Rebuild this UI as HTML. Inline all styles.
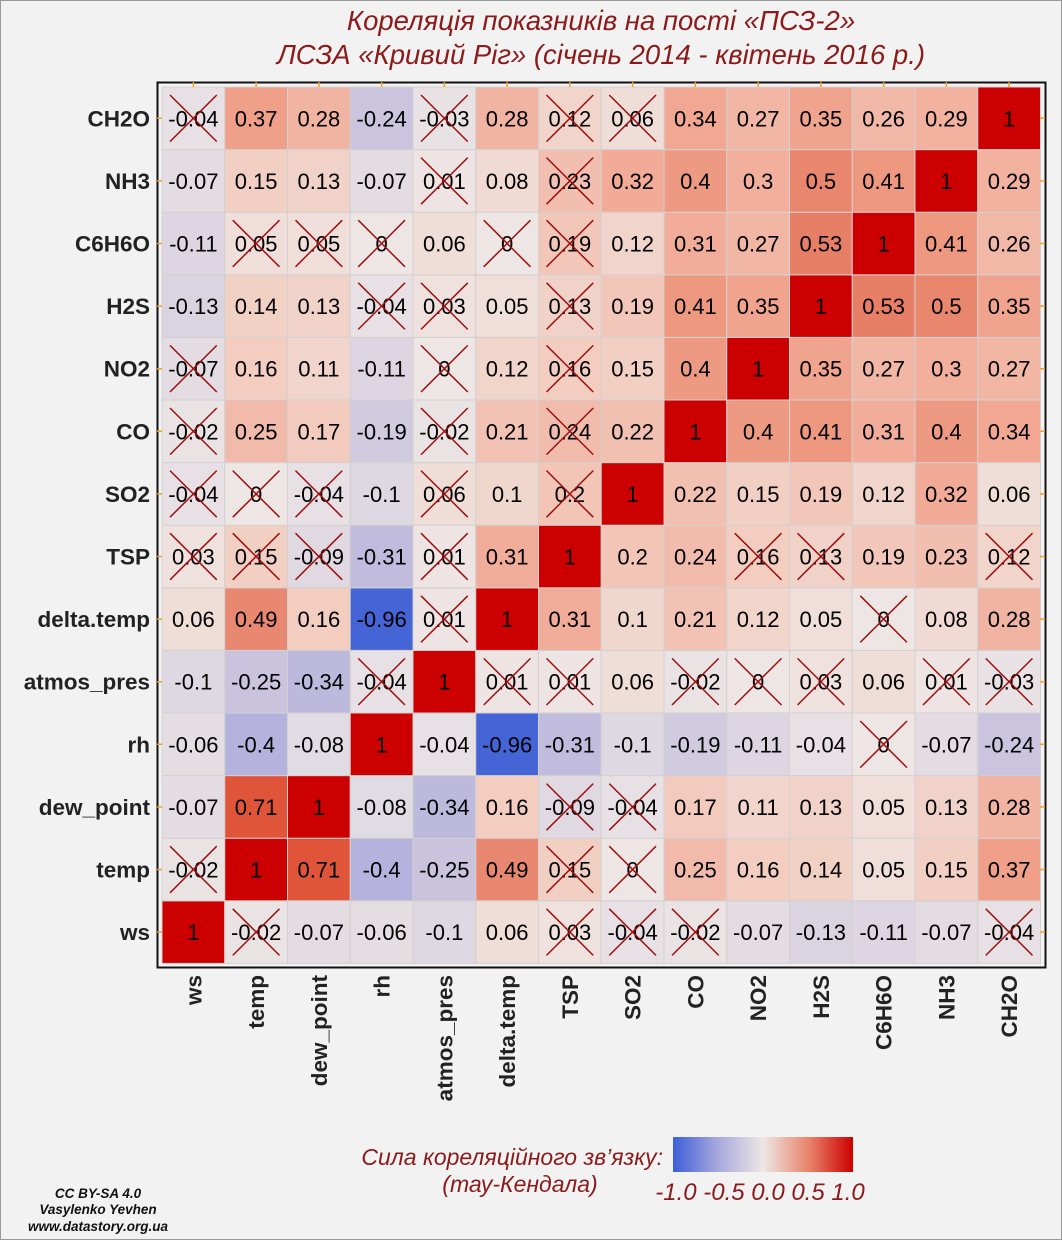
<!DOCTYPE html>
<html><head><meta charset="utf-8"><style>
body{margin:0;background:#f2f2f2;}
svg{display:block;font-family:"Liberation Sans",sans-serif;}
</style></head><body>
<svg id="chart" width="1062" height="1240" viewBox="0 0 1062 1240" xmlns="http://www.w3.org/2000/svg">
<rect x="0" y="0" width="1062" height="1240" fill="#f2f2f2"/>
<rect x="0.5" y="0.5" width="1061" height="1239" fill="none" stroke="#999"/>
<text x="601" y="30" text-anchor="middle" font-size="27.5" font-style="italic" fill="#8b1a1a">Кореляція показників на пості «ПСЗ-2»</text>
<text x="601" y="64" text-anchor="middle" font-size="27.5" font-style="italic" fill="#8b1a1a">ЛСЗА «Кривий Ріг» (січень 2014 - квітень 2016 р.)</text>
<g id="plot"></g>
<text x="663" y="1165" text-anchor="end" font-size="23" font-style="italic" fill="#8b1a1a">Сила кореляційного зв’язку:</text>
<text x="520" y="1192" text-anchor="middle" font-size="23" font-style="italic" fill="#8b1a1a">(тау-Кендала)</text>
<defs><linearGradient id="lg" x1="0" x2="1" y1="0" y2="0">
<stop offset="0" stop-color="#3c5fd7"/><stop offset="0.25" stop-color="#a8a8dc"/><stop offset="0.5" stop-color="#ede6e5"/><stop offset="0.75" stop-color="#e8866e"/><stop offset="1" stop-color="#cc0000"/></linearGradient></defs>
<rect x="673" y="1137" width="180" height="35" fill="url(#lg)"/>
<text x="760" y="1200" text-anchor="middle" font-size="24" font-style="italic" fill="#8b1a1a">-1.0 -0.5 0.0 0.5 1.0</text>
<g font-size="13.5" font-weight="bold" font-style="italic" fill="#111" text-anchor="middle">
<text x="98" y="1198">CC BY-SA 4.0</text><text x="98" y="1214">Vasylenko Yevhen</text><text x="98" y="1231">www.datastory.org.ua</text></g>
</svg>
<script>
const labels=["ws","temp","dew_point","rh","atmos_pres","delta.temp","TSP","SO2","CO","NO2","H2S","C6H6O","NH3","CH2O"];
const values=[
[1,-0.02,-0.07,-0.06,-0.1,0.06,0.03,-0.04,-0.02,-0.07,-0.13,-0.11,-0.07,-0.04],
[-0.02,1,0.71,-0.4,-0.25,0.49,0.15,0,0.25,0.16,0.14,0.05,0.15,0.37],
[-0.07,0.71,1,-0.08,-0.34,0.16,-0.09,-0.04,0.17,0.11,0.13,0.05,0.13,0.28],
[-0.06,-0.4,-0.08,1,-0.04,-0.96,-0.31,-0.1,-0.19,-0.11,-0.04,0,-0.07,-0.24],
[-0.1,-0.25,-0.34,-0.04,1,0.01,0.01,0.06,-0.02,0,0.03,0.06,0.01,-0.03],
[0.06,0.49,0.16,-0.96,0.01,1,0.31,0.1,0.21,0.12,0.05,0,0.08,0.28],
[0.03,0.15,-0.09,-0.31,0.01,0.31,1,0.2,0.24,0.16,0.13,0.19,0.23,0.12],
[-0.04,0,-0.04,-0.1,0.06,0.1,0.2,1,0.22,0.15,0.19,0.12,0.32,0.06],
[-0.02,0.25,0.17,-0.19,-0.02,0.21,0.24,0.22,1,0.4,0.41,0.31,0.4,0.34],
[-0.07,0.16,0.11,-0.11,0,0.12,0.16,0.15,0.4,1,0.35,0.27,0.3,0.27],
[-0.13,0.14,0.13,-0.04,0.03,0.05,0.13,0.19,0.41,0.35,1,0.53,0.5,0.35],
[-0.11,0.05,0.05,0,0.06,0,0.19,0.12,0.31,0.27,0.53,1,0.41,0.26],
[-0.07,0.15,0.13,-0.07,0.01,0.08,0.23,0.32,0.4,0.3,0.5,0.41,1,0.29],
[-0.04,0.37,0.28,-0.24,-0.03,0.28,0.12,0.06,0.34,0.27,0.35,0.26,0.29,1]];
const crossed=[
[0,1,0,0,0,0,1,1,1,0,0,0,0,1],
[1,0,0,0,0,0,1,1,0,0,0,0,0,0],
[0,0,0,0,0,0,1,1,0,0,0,0,0,0],
[0,0,0,0,0,0,0,0,0,0,0,1,0,0],
[0,0,0,1,0,1,1,0,1,1,1,0,1,1],
[0,0,0,0,1,0,0,0,0,0,0,1,0,0],
[1,1,1,0,1,0,0,0,0,1,1,0,0,1],
[1,1,1,0,1,0,1,0,0,0,0,0,0,0],
[1,0,0,0,1,0,1,0,0,0,0,0,0,0],
[1,0,0,0,1,0,1,0,0,0,0,0,0,0],
[0,0,0,1,1,0,1,0,0,0,0,0,0,0],
[0,1,1,1,0,1,1,0,0,0,0,0,0,0],
[0,0,0,0,1,0,1,0,0,0,0,0,0,0],
[1,0,0,0,1,0,1,1,0,0,0,0,0,0]];
const NS="http://www.w3.org/2000/svg";
const X0=162,Y0=87,CW=62.75,CH=62.6,N=labels.length;
const xPos=i=>X0+i*CW;
const yPos=r=>Y0+(N-1-r)*CH;
const stops=[[-1,[60,95,215]],[-0.5,[168,168,220]],[-0.24,[202,196,222]],[0,[237,230,229]],[0.15,[242,207,195]],[0.28,[242,180,162]],[0.37,[240,160,136]],[0.5,[232,134,110]],[0.71,[224,85,58]],[1,[204,0,0]]];
function color(v){for(let i=0;i<stops.length-1;i++){const a=stops[i],b=stops[i+1];if(v<=b[0]){const t=(v-a[0])/(b[0]-a[0]);return"rgb("+a[1].map((c,k)=>Math.round(c+(b[1][k]-c)*t)).join(",")+")";}}return"rgb(204,0,0)";}
const g=document.getElementById("plot");
function mk(tag,attrs,parent){const e=document.createElementNS(NS,tag);for(const k in attrs)e.setAttribute(k,attrs[k]);(parent||g).appendChild(e);return e;}
const frame=mk("rect",{x:157.5,y:82.5,width:888,height:885,fill:"none",stroke:"#111","stroke-width":2});


for(let r=0;r<N;r++){for(let c=0;c<N;c++){
 const v=values[r][c],x=xPos(c),y=yPos(r);
 const cell=mk("rect",{x:x,y:y,width:CW,height:CH,fill:color(v),stroke:"#d4d0d0","stroke-width":1});
 
 
 const t=mk("text",{x:x+CW/2,y:y+CH/2+8,"text-anchor":"middle","font-size":22,fill:"#000"});
 t.textContent=String(v);
 
 
 if(crossed[r][c]){
  const p=mk("path",{d:`M${x+8},${y+8}L${x+CW-8},${y+CH-8}M${x+CW-8},${y+8}L${x+8},${y+CH-8}`,stroke:"#9b1010","stroke-width":1.5,fill:"none"});
  
  
 }
}}
for(let i=0;i<N;i++){
 const yl=mk("text",{x:150,y:yPos(i)+CH/2+8,"text-anchor":"end","font-size":22.5,"font-weight":"bold",fill:"#222"});
 yl.textContent=labels[i];
 
 
 const cx=xPos(i)+CW/2;
 const xl=mk("text",{transform:`translate(${cx+8},975) rotate(-90)`,"text-anchor":"end","font-size":22.5,"font-weight":"bold",fill:"#222"});
 xl.textContent=labels[i];
 
 
 const tk=mk("path",{d:`M${cx},82V87M157,${yPos(i)+CH/2}H162M1045,${yPos(i)+CH/2}H1040`,stroke:"#f0a020","stroke-width":1.5});
 
 
}
</script>
</body></html>
